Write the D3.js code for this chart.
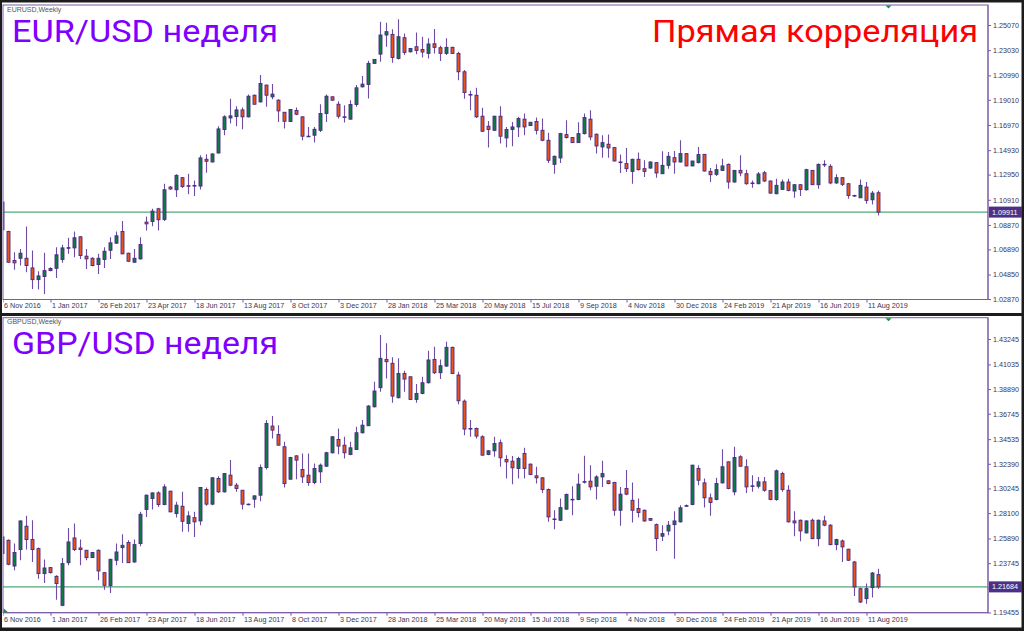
<!DOCTYPE html>
<html><head><meta charset="utf-8">
<script src="https://cdn.jsdelivr.net/npm/d3@7"></script>
<style>
html,body{margin:0;padding:0;background:#1c1c1c;overflow:hidden;}
svg{display:block;}
</style></head><body>
<svg id="chart" width="1024" height="631"></svg>
<script>
// x-axis labels, one every 8 weekly candles
const weekLabels = ["6 Nov 2016","1 Jan 2017","26 Feb 2017","23 Apr 2017","18 Jun 2017","13 Aug 2017","8 Oct 2017","3 Dec 2017","28 Jan 2018","25 Mar 2018","20 May 2018","15 Jul 2018","9 Sep 2018","4 Nov 2018","30 Dec 2018","24 Feb 2019","21 Apr 2019","16 Jun 2019","11 Aug 2019"];
const labelStep = 8;

const eurTickValues = [1.25070,1.23030,1.20990,1.19010,1.16970,1.14930,1.12950,1.10910,1.08870,1.06890,1.04850,1.02870];
const gbpTickValues = [1.43245,1.41035,1.38890,1.36745,1.34535,1.32390,1.30245,1.28100,1.25890,1.23745,1.21600,1.19455];
const eurLast = 1.09911;
const gbpLast = 1.21684;

// weekly candles: [open, high, low, close]
const eurCandles = [
[1.1072,1.1302,1.0842,1.0848],[1.0834,1.0840,1.0580,1.0585],[1.0599,1.0666,1.0523,1.0580],[1.0617,1.0693,1.0558,1.0658],
[1.0617,1.0875,1.0504,1.0558],[1.0539,1.0680,1.0368,1.0444],[1.0444,1.0512,1.0363,1.0474],[1.0469,1.0661,1.0328,1.0517],
[1.0517,1.0544,1.0512,1.0534],[1.0536,1.0707,1.0458,1.0645],[1.0607,1.0726,1.0580,1.0701],[1.0701,1.0783,1.0653,1.0703],
[1.0701,1.0834,1.0626,1.0783],[1.0791,1.0795,1.0612,1.0639],[1.0634,1.0693,1.0531,1.0612],[1.0617,1.0626,1.0553,1.0558],
[1.0566,1.0653,1.0490,1.0617],[1.0607,1.0707,1.0539,1.0674],[1.0682,1.0788,1.0612,1.0742],[1.0739,1.0834,1.0734,1.0799],
[1.0834,1.0918,1.0650,1.0653],[1.0658,1.0662,1.0588,1.0593],[1.0585,1.0693,1.0580,1.0617],[1.0612,1.0788,1.0607,1.0728],
[1.0910,1.0956,1.0842,1.0896],[1.0915,1.1018,1.0877,1.0999],[1.1018,1.1026,1.0842,1.0929],[1.0932,1.1221,1.0918,1.1172],
[1.1194,1.1202,1.1175,1.1178],[1.1172,1.1297,1.1113,1.1289],[1.1270,1.1275,1.1186,1.1199],[1.1205,1.1302,1.1135,1.1203],
[1.1203,1.1248,1.1121,1.1207],[1.1202,1.1451,1.1175,1.1430],[1.1419,1.1459,1.1310,1.1403],[1.1397,1.1467,1.1395,1.1462],
[1.1470,1.1687,1.1465,1.1665],[1.1660,1.1776,1.1614,1.1763],[1.1754,1.1909,1.1708,1.1771],[1.1765,1.1849,1.1687,1.1819],
[1.1819,1.1838,1.1662,1.1763],[1.1763,1.1944,1.1757,1.1930],[1.1938,1.1944,1.1862,1.1865],[1.1884,1.2101,1.1879,1.2033],
[1.2020,1.2025,1.1844,1.1938],[1.1925,1.2028,1.1906,1.1947],[1.1898,1.1906,1.1722,1.1811],[1.1800,1.1803,1.1668,1.1727],
[1.1725,1.1825,1.1722,1.1822],[1.1814,1.1838,1.1776,1.1784],[1.1763,1.1766,1.1573,1.1606],[1.1606,1.1681,1.1600,1.1604],
[1.1614,1.1681,1.1554,1.1662],[1.1654,1.1865,1.1641,1.1790],[1.1790,1.1944,1.1722,1.1930],[1.1925,1.1930,1.1893,1.1898],
[1.1865,1.1890,1.1749,1.1768],[1.1763,1.1857,1.1717,1.1761],[1.1744,1.1898,1.1741,1.1863],[1.1863,1.2020,1.1844,1.1998],
[1.2006,1.2093,1.2001,1.2028],[1.2025,1.2217,1.1911,1.2196],[1.2196,1.2230,1.2193,1.2228],[1.2271,1.2534,1.2209,1.2426],
[1.2426,1.2526,1.2331,1.2453],[1.2431,1.2472,1.2201,1.2244],[1.2236,1.2553,1.2228,1.2412],[1.2404,1.2439,1.2263,1.2285],
[1.2290,1.2320,1.2285,1.2317],[1.2331,1.2447,1.2269,1.2301],[1.2309,1.2412,1.2244,1.2288],[1.2277,1.2399,1.2236,1.2353],
[1.2355,1.2474,1.2277,1.2326],[1.2323,1.2339,1.2215,1.2277],[1.2277,1.2399,1.2263,1.2326],[1.2326,1.2330,1.2274,1.2277],
[1.2277,1.2290,1.2060,1.2128],[1.2128,1.2142,1.1909,1.1960],[1.1944,1.1974,1.1817,1.1941],[1.1938,1.1998,1.1754,1.1763],
[1.1768,1.1836,1.1641,1.1646],[1.1687,1.1730,1.1514,1.1660],[1.1654,1.1771,1.1651,1.1768],[1.1768,1.1849,1.1546,1.1606],
[1.1592,1.1681,1.1514,1.1660],[1.1660,1.1722,1.1524,1.1681],[1.1681,1.1763,1.1600,1.1749],[1.1744,1.1790,1.1614,1.1681],
[1.1692,1.1722,1.1689,1.1719],[1.1725,1.1757,1.1619,1.1654],[1.1654,1.1749,1.1565,1.1573],[1.1573,1.1635,1.1389,1.1411],
[1.1378,1.1449,1.1302,1.1443],[1.1430,1.1635,1.1389,1.1627],[1.1619,1.1735,1.1587,1.1595],[1.1595,1.1597,1.1551,1.1554],
[1.1554,1.1719,1.1551,1.1627],[1.1627,1.1790,1.1619,1.1757],[1.1744,1.1817,1.1573,1.1600],[1.1622,1.1627,1.1465,1.1527],
[1.1519,1.1614,1.1432,1.1554],[1.1541,1.1619,1.1432,1.1511],[1.1514,1.1519,1.1403,1.1405],[1.1397,1.1457,1.1308,1.1395],
[1.1384,1.1511,1.1316,1.1343],[1.1321,1.1424,1.1221,1.1419],[1.1419,1.1473,1.1329,1.1335],[1.1343,1.1411,1.1275,1.1321],
[1.1348,1.1403,1.1343,1.1397],[1.1392,1.1395,1.1270,1.1308],[1.1302,1.1484,1.1300,1.1370],[1.1370,1.1478,1.1343,1.1443],
[1.1432,1.1486,1.1302,1.1397],[1.1397,1.1573,1.1392,1.1465],[1.1465,1.1468,1.1362,1.1365],[1.1365,1.1408,1.1362,1.1405],
[1.1392,1.1519,1.1384,1.1457],[1.1459,1.1462,1.1321,1.1324],[1.1321,1.1348,1.1235,1.1294],[1.1297,1.1378,1.1283,1.1335],
[1.1329,1.1424,1.1324,1.1365],[1.1378,1.1384,1.1181,1.1235],[1.1235,1.1332,1.1229,1.1329],[1.1329,1.1451,1.1281,1.1308],
[1.1302,1.1335,1.1213,1.1221],[1.1227,1.1248,1.1189,1.1225],[1.1221,1.1316,1.1216,1.1300],[1.1310,1.1324,1.1235,1.1243],
[1.1243,1.1248,1.1140,1.1145],[1.1140,1.1262,1.1135,1.1208],[1.1175,1.1256,1.1172,1.1235],[1.1235,1.1262,1.1159,1.1167],
[1.1162,1.1216,1.1107,1.1213],[1.1213,1.1216,1.1121,1.1175],[1.1172,1.1343,1.1167,1.1335],[1.1329,1.1332,1.1210,1.1213],
[1.1213,1.1384,1.1181,1.1378],[1.1378,1.1411,1.1357,1.1376],[1.1362,1.1378,1.1216,1.1227],[1.1227,1.1297,1.1221,1.1270],
[1.1270,1.1275,1.1202,1.1216],[1.1221,1.1227,1.1099,1.1126],[1.1126,1.1132,1.1113,1.1124],[1.1107,1.1256,1.1105,1.1208],
[1.1194,1.1235,1.1059,1.1086],[1.1091,1.1162,1.1053,1.1145],[1.1148,1.1167,1.0964,1.0991]
];

const gbpCandles = [
[1.2458,1.2690,1.2356,1.2603],[1.2574,1.2580,1.2356,1.2365],[1.2350,1.2545,1.2313,1.2467],[1.2493,1.2745,1.2400,1.2742],
[1.2696,1.2786,1.2493,1.2580],[1.2580,1.2748,1.2385,1.2493],[1.2501,1.2510,1.2240,1.2284],[1.2284,1.2406,1.2202,1.2333],
[1.2336,1.2342,1.2284,1.2292],[1.2260,1.2269,1.2057,1.2197],[1.2008,1.2420,1.1999,1.2371],[1.2379,1.2681,1.2356,1.2559],
[1.2594,1.2719,1.2481,1.2493],[1.2507,1.2580,1.2356,1.2493],[1.2487,1.2490,1.2400,1.2423],[1.2423,1.2470,1.2420,1.2467],
[1.2487,1.2493,1.2226,1.2307],[1.2292,1.2298,1.2144,1.2182],[1.2179,1.2414,1.2115,1.2408],[1.2400,1.2545,1.2356,1.2472],
[1.2510,1.2626,1.2376,1.2530],[1.2554,1.2574,1.2376,1.2379],[1.2385,1.2580,1.2379,1.2536],[1.2545,1.2821,1.2522,1.2800],
[1.2841,1.2972,1.2777,1.2966],[1.2937,1.2989,1.2841,1.2986],[1.2986,1.3001,1.2864,1.2885],[1.2885,1.3062,1.2879,1.3038],
[1.3001,1.3004,1.2818,1.2821],[1.2806,1.2908,1.2771,1.2879],[1.2870,1.2995,1.2647,1.2739],[1.2719,1.2827,1.2647,1.2786],
[1.2771,1.2821,1.2603,1.2734],[1.2742,1.3038,1.2705,1.3033],[1.3015,1.3033,1.2873,1.2888],[1.2888,1.3125,1.2879,1.3117],
[1.3111,1.3131,1.2986,1.2995],[1.2995,1.3160,1.2989,1.3154],[1.3140,1.3271,1.3044,1.3053],[1.3053,1.3073,1.2995,1.3024],
[1.3009,1.3012,1.2841,1.2888],[1.2888,1.2894,1.2879,1.2886],[1.2931,1.2966,1.2856,1.2960],[1.2966,1.3233,1.2914,1.3207],
[1.3207,1.3619,1.3189,1.3590],[1.3567,1.3654,1.3459,1.3532],[1.3494,1.3575,1.3398,1.3401],[1.3387,1.3430,1.3033,1.3067],
[1.3105,1.3300,1.3102,1.3294],[1.3308,1.3314,1.3105,1.3271],[1.3189,1.3329,1.3073,1.3125],[1.3140,1.3329,1.3047,1.3076],
[1.3076,1.3242,1.3062,1.3198],[1.3169,1.3242,1.3073,1.3227],[1.3218,1.3343,1.3213,1.3335],[1.3335,1.3480,1.3329,1.3474],
[1.3451,1.3546,1.3323,1.3393],[1.3401,1.3474,1.3285,1.3335],[1.3320,1.3430,1.3314,1.3378],[1.3364,1.3561,1.3358,1.3509],
[1.3509,1.3619,1.3503,1.3575],[1.3570,1.3750,1.3567,1.3741],[1.3735,1.3953,1.3729,1.3872],[1.3901,1.4359,1.3866,1.4156],
[1.4147,1.4287,1.3982,1.4127],[1.4113,1.4165,1.3770,1.3828],[1.3814,1.4156,1.3808,1.4025],[1.4025,1.4049,1.3866,1.3976],
[1.3996,1.3999,1.3793,1.3799],[1.3799,1.3933,1.3770,1.3851],[1.3851,1.3996,1.3845,1.3944],[1.3944,1.4223,1.3938,1.4142],
[1.4147,1.4258,1.4020,1.4031],[1.4031,1.4147,1.3976,1.4092],[1.4089,1.4301,1.4083,1.4252],[1.4252,1.4258,1.4020,1.4025],
[1.4011,1.4040,1.3758,1.3787],[1.3784,1.3799,1.3488,1.3541],[1.3546,1.3619,1.3474,1.3544],[1.3546,1.3555,1.3459,1.3480],
[1.3474,1.3488,1.3311,1.3314],[1.3320,1.3358,1.3314,1.3352],[1.3352,1.3474,1.3300,1.3416],[1.3422,1.3451,1.3213,1.3291],
[1.3277,1.3314,1.3111,1.3256],[1.3262,1.3306,1.3062,1.3204],[1.3198,1.3300,1.3111,1.3285],[1.3329,1.3378,1.3111,1.3198],
[1.3236,1.3242,1.3140,1.3146],[1.3134,1.3213,1.3067,1.3117],[1.3117,1.3125,1.2986,1.3015],[1.3015,1.3024,1.2734,1.2777],
[1.2757,1.2835,1.2670,1.2759],[1.2748,1.2937,1.2742,1.2858],[1.2844,1.2980,1.2841,1.2972],[1.2928,1.3044,1.2792,1.2930],
[1.2928,1.3154,1.2922,1.3062],[1.3082,1.3308,1.3067,1.3084],[1.3088,1.3227,1.3009,1.3038],[1.3044,1.3140,1.2928,1.3125],
[1.3125,1.3265,1.3038,1.3154],[1.3091,1.3096,1.3062,1.3067],[1.3076,1.3082,1.2786,1.2835],[1.2835,1.3038,1.2699,1.2975],
[1.3024,1.3184,1.2966,1.2975],[1.2922,1.3076,1.2728,1.2835],[1.2850,1.2937,1.2771,1.2815],[1.2835,1.2841,1.2734,1.2742],
[1.2763,1.2766,1.2742,1.2748],[1.2710,1.2719,1.2481,1.2588],[1.2609,1.2705,1.2568,1.2632],[1.2655,1.2742,1.2618,1.2705],
[1.2710,1.2827,1.2414,1.2742],[1.2734,1.2879,1.2728,1.2856],[1.2873,1.2885,1.2864,1.2875],[1.2885,1.3230,1.2879,1.3227],
[1.3198,1.3227,1.3053,1.3096],[1.3073,1.3111,1.2858,1.2943],[1.2943,1.2980,1.2786,1.2902],[1.2928,1.3117,1.2922,1.3067],
[1.3073,1.3366,1.3067,1.3213],[1.3256,1.3259,1.3018,1.3024],[1.2995,1.3387,1.2966,1.3294],[1.3300,1.3314,1.3213,1.3218],
[1.3213,1.3279,1.2986,1.3038],[1.3047,1.3140,1.2995,1.3044],[1.3044,1.3125,1.3024,1.3082],[1.3082,1.3125,1.2995,1.3009],
[1.3006,1.3009,1.2922,1.2928],[1.2928,1.3189,1.2917,1.3178],[1.3154,1.3169,1.2995,1.3015],[1.3009,1.3053,1.2728,1.2734],
[1.2742,1.2827,1.2609,1.2725],[1.2748,1.2754,1.2565,1.2655],[1.2638,1.2748,1.2632,1.2742],[1.2748,1.2763,1.2583,1.2588],
[1.2588,1.2754,1.2522,1.2748],[1.2742,1.2786,1.2696,1.2705],[1.2705,1.2713,1.2530,1.2536],[1.2536,1.2588,1.2487,1.2580],
[1.2568,1.2580,1.2385,1.2516],[1.2496,1.2501,1.2394,1.2400],[1.2385,1.2394,1.2089,1.2168],[1.2153,1.2162,1.2028,1.2037],
[1.2066,1.2197,1.2022,1.2153],[1.2162,1.2298,1.2075,1.2289],[1.2275,1.2327,1.2153,1.2168]
];

const svg = d3.select("#chart");
const fmt = d3.format(".5f");
const COLORS = {frame:"#1c1c1c", border:"#7b5aa6", wick:"#6e4ea3", bodyStroke:"#4a2a7e",
  up:"#0f7a45", down:"#ea531f", priceLine:"#4fa877", priceBox:"#4e2f83", text:"#3a3450", marker:"#1f8a4c"};
const smallFont = "Liberation Sans, Arial, sans-serif";
const titleFont = "Roboto, sans-serif";

svg.append("rect").attr("width",1024).attr("height",631).attr("fill",COLORS.frame);

const x = d3.scaleLinear().domain([0, eurCandles.length - 1]).range([2.5, 2.5 + 6 * (eurCandles.length - 1)]);

const panels = [
  {id:"eur", symbol:"EURUSD,Weekly", title:"EUR/USD неделя", data:eurCandles, ticks:eurTickValues, last:eurLast,
   bgTop:2.5, bgBottom:313, plotTop:5, plotBottom:299.5, domain:[1.02870,1.25070], range:[299,25], titleY:41.5, extra:true},
  {id:"gbp", symbol:"GBPUSD,Weekly", title:"GBP/USD неделя", data:gbpCandles, ticks:gbpTickValues, last:gbpLast,
   bgTop:316, bgBottom:627.5, plotTop:317.7, plotBottom:612.7, domain:[1.19455,1.43245], range:[612.5,339], titleY:353.5, extra:false}
];

const left = 3, right = 988;

panels.forEach(p => {
  const g = svg.append("g");
  const y = d3.scaleLinear().domain(p.domain).range(p.range);

  g.append("rect").attr("x",2).attr("y",p.bgTop).attr("width",1019.5).attr("height",p.bgBottom - p.bgTop).attr("fill","#fff");

  const clipId = "clip-" + p.id;
  svg.append("clipPath").attr("id",clipId).append("rect")
    .attr("x",left).attr("y",p.plotTop).attr("width",right-left).attr("height",p.plotBottom-p.plotTop);

  // price line
  g.append("line").attr("x1",left).attr("x2",right).attr("y1",y(p.last)).attr("y2",y(p.last))
    .attr("stroke",COLORS.priceLine).attr("stroke-width",1.3);

  const cg = g.append("g").attr("clip-path",`url(#${clipId})`);
  const candles = cg.selectAll("g.c").data(p.data).join("g").attr("class","c");
  candles.append("line")
    .attr("x1",(d,i)=>x(i)).attr("x2",(d,i)=>x(i))
    .attr("y1",d=>y(d[1])).attr("y2",d=>y(d[2]))
    .attr("stroke",COLORS.wick).attr("stroke-width",1.1);
  candles.append("rect")
    .attr("x",(d,i)=>x(i)-1.5).attr("width",3)
    .attr("y",d=>y(Math.max(d[0],d[3])))
    .attr("height",d=>Math.max(0.6, Math.abs(y(d[0])-y(d[3]))))
    .attr("fill",d=>d[3]>=d[0]?COLORS.up:COLORS.down)
    .attr("stroke",COLORS.bodyStroke).attr("stroke-width",0.9);

  // border of plot area
  g.append("rect").attr("x",left).attr("y",p.plotTop).attr("width",right-left).attr("height",p.plotBottom-p.plotTop)
    .attr("fill","none").attr("stroke",COLORS.border).attr("stroke-width",1);

  // right price axis
  const yAxis = d3.axisRight(y).tickValues(p.ticks).tickFormat(fmt).tickSize(3).tickPadding(2);
  const ya = g.append("g").attr("transform",`translate(${right},0)`).call(yAxis);
  ya.select(".domain").attr("stroke",COLORS.border).attr("d",`M0,${p.plotTop}V${p.plotBottom}`);
  ya.selectAll(".tick line").attr("stroke",COLORS.border);
  ya.selectAll(".tick text").attr("fill",COLORS.text).attr("font-family",smallFont).attr("font-size",7.2);

  // current price box
  const ly = y(p.last);
  g.append("rect").attr("x",right+1).attr("y",ly-5.5).attr("width",33).attr("height",11).attr("fill",COLORS.priceBox);
  g.append("text").attr("x",right+4).attr("y",ly+0.5).attr("dominant-baseline","middle")
    .attr("fill","#fff").attr("font-family",smallFont).attr("font-size",7.2).text(fmt(p.last));

  // bottom time axis (clipped at the left border like the reference)
  const tickIdx = weekLabels.map((s,k)=>k*labelStep);
  const xAxis = d3.axisBottom(x).tickValues(tickIdx).tickFormat(d=>weekLabels[d/labelStep]).tickSize(3).tickPadding(2);
  const clipX = "clipx-" + p.id;
  svg.append("clipPath").attr("id",clipX).append("rect")
    .attr("x",left).attr("y",p.plotBottom-1).attr("width",right-left+30).attr("height",14);
  const xwrap = g.append("g").attr("clip-path",`url(#${clipX})`);
  const xa = xwrap.append("g").attr("transform",`translate(0,${p.plotBottom})`).call(xAxis);
  xa.select(".domain").remove();
  xa.selectAll(".tick line").attr("stroke",COLORS.border);
  xa.selectAll(".tick text").attr("text-anchor","start").attr("dx",1).attr("dy","0.55em")
    .attr("fill",COLORS.text).attr("font-family",smallFont).attr("font-size",7.2);
  g.append("line").attr("x1",left).attr("x2",right).attr("y1",p.plotBottom).attr("y2",p.plotBottom).attr("stroke",COLORS.border);

  // symbol caption
  g.append("text").attr("x",7).attr("y",p.plotTop+6.5).attr("fill","#555").attr("font-family",smallFont)
    .attr("font-size",7).text(p.symbol);

  // big titles
  g.append("text").attr("x",12).attr("y",p.titleY).attr("fill","#8000ff").attr("font-family",titleFont)
    .attr("font-size",31).attr("textLength",266).attr("lengthAdjust","spacingAndGlyphs").text(p.title);
  if (p.extra) {
    g.append("text").attr("x",652).attr("y",p.titleY).attr("fill","#ff0000")
      .attr("font-family",titleFont).attr("font-size",31).attr("textLength",326).attr("lengthAdjust","spacingAndGlyphs")
      .text("Прямая корреляция");
  }

  // shift marker
  const mx = x(eurCandles.length - 1) + 10;
  g.append("path").attr("d",`M${mx-3},${p.plotTop+0.5}L${mx+3},${p.plotTop+0.5}L${mx},${p.plotTop+3.5}Z`).attr("fill",COLORS.marker);
  if (!p.extra) {
    g.append("path").attr("d",`M${left+0.5},${p.plotBottom-4.5}L${left+0.5},${p.plotBottom-0.5}L${left+5},${p.plotBottom-0.5}Z`).attr("fill",COLORS.marker);
  }
});
</script>
</body></html>
